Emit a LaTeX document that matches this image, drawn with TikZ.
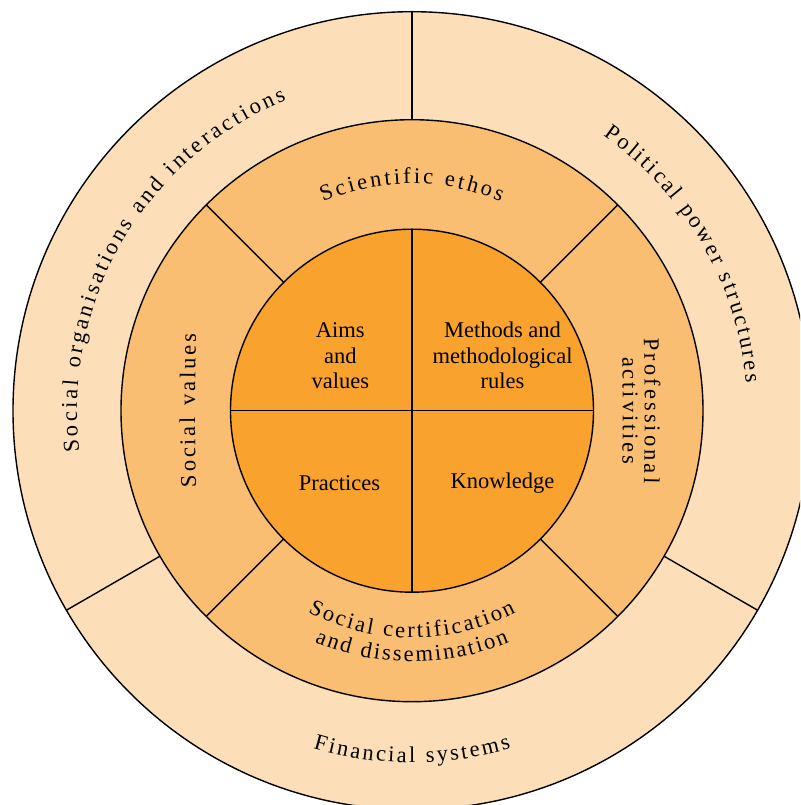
\documentclass[tikz,border=0pt]{standalone}
\usepackage{fontspec}
\setmainfont{Liberation Serif}
\definecolor{outerc}{RGB}{252,223,185}
\definecolor{midc}{RGB}{250,190,114}
\definecolor{innerc}{RGB}{249,162,46}
\newcount\arcCount
\newcommand\arcsize{22.5}
\newcommand\arcfont{\fontsize{22.5}{27}\selectfont}
\newcommand\infont{\fontsize{22.5}{27}\selectfont}
% character widths of Times / Liberation Serif (per em)
\newcommand\setcw[2]{\expandafter\def\csname cw-#1\endcsname{#2}}
\setcw{a}{0.444}\setcw{c}{0.444}\setcw{d}{0.5}\setcw{e}{0.444}
\setcw{f}{0.333}\setcw{g}{0.5}\setcw{h}{0.5}\setcw{i}{0.278}
\setcw{l}{0.278}\setcw{m}{0.778}\setcw{n}{0.5}\setcw{o}{0.5}
\setcw{p}{0.5}\setcw{r}{0.333}\setcw{s}{0.389}\setcw{t}{0.278}
\setcw{u}{0.5}\setcw{v}{0.5}\setcw{w}{0.722}\setcw{y}{0.5}
\setcw{S}{0.556}\setcw{P}{0.556}\setcw{F}{0.556}
% #1 baseline radius, #2 centre angle, #3 tracking (pt), #4 1 = top reading, -1 = bottom reading, #5 characters (~ = space)
\newcommand\arctext[5]{%
  \gdef\arcTotM{0}%
  \foreach \ch in {#5}{%
    \expandafter\ifx\ch~\def\cw{0.25}\else\edef\cw{\csname cw-\ch\endcsname}\fi
    \pgfmathsetmacro\arcTmp{\arcTotM+\cw*\arcsize+#3}%
    \xdef\arcTotM{\arcTmp}%
  }%
  \pgfmathsetmacro\arcTmp{\arcTotM-#3}\xdef\arcTotM{\arcTmp}%
  \gdef\arcPosM{0}%
  \foreach \ch in {#5}{%
    \expandafter\ifx\ch~\def\cw{0.25}\else\edef\cw{\csname cw-\ch\endcsname}\fi
    \pgfmathsetmacro\arcAng{#2-(#4)*(\arcPosM+0.5*\cw*\arcsize-0.5*\arcTotM)/(#1)*57.29578}%
    \pgfmathsetmacro\arcRot{\arcAng-(#4)*90}%
    \expandafter\ifx\ch~\else
      \global\advance\arcCount by 1
      \node[arcchar,rotate=\arcRot,name=ch\the\arcCount] at (\arcAng:#1pt) {\ch};
    \fi
    \pgfmathsetmacro\arcTmp{\arcPosM+\cw*\arcsize+#3}%
    \xdef\arcPosM{\arcTmp}%
  }%
}
\tikzset{
  arcchar/.style={anchor=base,inner sep=0pt,font=\arcfont},
  inlabel/.style={anchor=base,inner sep=0pt,font=\infont},
  ring/.style={draw=black,line width=1.4pt},
  divider/.style={draw=black,line width=1.4pt}
}
\begin{document}
\begin{tikzpicture}[x=1pt,y=1pt]
\useasboundingbox (-412,-394.3) rectangle (388,410.7);
\clip (-412,-394.3) rectangle (388,410.7);
\coordinate (O) at (0,0);
% rings
\path[ring,fill=outerc] (O) circle[radius=399pt];
\path[ring,fill=midc] (O) circle[radius=291pt];
\path[ring,fill=innerc] (O) circle[radius=181.5pt];
% outer dividers
\foreach \a in {90,210,330}{\draw[divider] (\a:291pt) -- (\a:399pt);}
% middle dividers
\foreach \a in {45,135,225,315}{\draw[divider] (\a:181.5pt) -- (\a:291pt);}
% inner cross
\draw[divider] (-181.5,0) -- (181.5,0);
\draw[divider] (0,-181.5) -- (0,181.5);
% inner labels
\node[inlabel] (aims1) at (-71.7,73.4) {Aims};
\node[inlabel] (aims2) at (-71.7,47.4) {and};
\node[inlabel] (aims3) at (-71.7,22.4) {values};
\node[inlabel] (meth1) at (90.5,73.4) {Methods and};
\node[inlabel] (meth2) at (90.5,47.4) {methodological};
\node[inlabel] (meth3) at (90.5,22.4) {rules};
\node[inlabel] (prac) at (-72.5,-80) {Practices};
\node[inlabel] (know) at (90.5,-77.6) {Knowledge};
% middle ring labels
\arctext{227}{90}{2.88}{1}{S,c,i,e,n,t,i,f,i,c,~,e,t,h,o,s}
\begin{scope}[shift={(2783,0)}]
\arctext{3000}{180}{2.84}{1}{S,o,c,i,a,l,~,v,a,l,u,e,s}
\end{scope}
\begin{scope}[shift={(-2767,0)}]
\arctext{3000}{0}{3.1}{1}{P,r,o,f,e,s,s,i,o,n,a,l}
\end{scope}
\begin{scope}[shift={(-2789,0)}]
\arctext{3000}{0}{2.9}{1}{a,c,t,i,v,i,t,i,e,s}
\end{scope}
\arctext{227}{270}{2.4}{-1}{S,o,c,i,a,l,~,c,e,r,t,i,f,i,c,a,t,i,o,n}
\arctext{251}{270}{2.3}{-1}{a,n,d,~,d,i,s,s,e,m,i,n,a,t,i,o,n}
% outer ring labels
\arctext{335}{149.5}{3.0}{1}{S,o,c,i,a,l,~,o,r,g,a,n,i,s,a,t,i,o,n,s,~,a,n,d,~,i,n,t,e,r,a,c,t,i,o,n,s}
\arctext{335}{30}{2.6}{1}{P,o,l,i,t,i,c,a,l,~,p,o,w,e,r,~,s,t,r,u,c,t,u,r,e,s}
\arctext{352}{270}{2.5}{-1}{F,i,n,a,n,c,i,a,l,~,s,y,s,t,e,m,s}
\end{tikzpicture}
\end{document}
